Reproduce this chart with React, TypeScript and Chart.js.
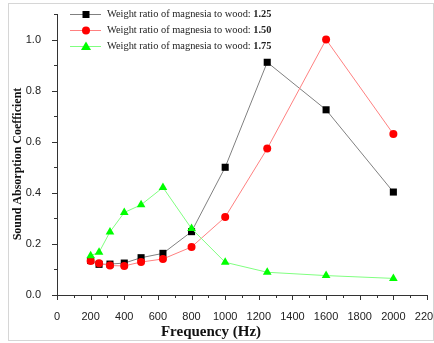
import React, { useEffect, useRef } from "react";
import { Chart, registerables } from "chart.js";

Chart.register(...registerables);

const frequencies = [200, 250, 315, 400, 500, 630, 800, 1000, 1250, 1600, 2000];
const ratio125 = [0.135, 0.12, 0.121, 0.125, 0.146, 0.163, 0.248, 0.5, 0.911, 0.725, 0.403];
const ratio150 = [0.133, 0.124, 0.115, 0.114, 0.129, 0.141, 0.188, 0.305, 0.573, 1.0, 0.63];
const ratio175 = [0.154, 0.167, 0.247, 0.323, 0.353, 0.421, 0.26, 0.128, 0.089, 0.076, 0.065];
const ratioLabels = ["1.25", "1.50", "1.75"];
const legendPrefix = "Weight ratio of magnesia to wood: ";
const xTicks = [0, 200, 400, 600, 800, 1000, 1200, 1400, 1600, 1800, 2000, 2200];
const yTicks = [0, 0.2, 0.4, 0.6, 0.8, 1.0];
const xMinorTicks = [100, 300, 500, 700, 900, 1100, 1300, 1500, 1700, 1900, 2100];
const yMinorTicks = [0.1, 0.3, 0.5, 0.7, 0.9, 1.1];
const xTitle = "Frequency (Hz)";
const yTitle = "Sound Absorption Coefficient";

const lineColors = ["#808080", "#ff8080", "#80ff80"];
const markerColors = ["#000000", "#ff0000", "#00ff00"];
const markerStyles = ["rect", "circle", "triangle"];

function drawMarker(ctx: CanvasRenderingContext2D, style: string, x: number, y: number, color: string) {
  ctx.save();
  ctx.fillStyle = color;
  ctx.beginPath();
  if (style === "rect") {
    ctx.rect(x - 3.5, y - 3.5, 7, 7);
  } else if (style === "circle") {
    ctx.arc(x, y, 4, 0, Math.PI * 2);
  } else {
    ctx.moveTo(x, y - 5);
    ctx.lineTo(x + 5, y + 3.5);
    ctx.lineTo(x - 5, y + 3.5);
    ctx.closePath();
  }
  ctx.fill();
  ctx.restore();
}

const decorPlugin = {
  id: "decor",
  afterDraw(chart: any) {
    const ctx: CanvasRenderingContext2D = chart.ctx;
    const xs = chart.scales.x;
    const ys = chart.scales.y;
    const area = chart.chartArea;
    ctx.save();
    // frame around figure
    ctx.strokeStyle = "#d6d6d6";
    ctx.lineWidth = 1;
    ctx.strokeRect(8.5, 3.5, 425, 337);

    // ticks
    ctx.strokeStyle = "#333333";
    ctx.lineWidth = 1;
    ctx.beginPath();
    xTicks.forEach((v) => {
      const px = Math.round(xs.getPixelForValue(v)) + 0.5;
      ctx.moveTo(px, area.bottom);
      ctx.lineTo(px, area.bottom + 5);
    });
    xMinorTicks.forEach((v) => {
      const px = Math.round(xs.getPixelForValue(v)) + 0.5;
      ctx.moveTo(px, area.bottom);
      ctx.lineTo(px, area.bottom + 3);
    });
    yTicks.forEach((v) => {
      const py = Math.round(ys.getPixelForValue(v)) + 0.5;
      ctx.moveTo(area.left, py);
      ctx.lineTo(area.left - 5, py);
    });
    yMinorTicks.forEach((v) => {
      const py = Math.round(ys.getPixelForValue(v)) + 0.5;
      ctx.moveTo(area.left, py);
      ctx.lineTo(area.left - 3, py);
    });
    ctx.stroke();

    // axis titles
    ctx.fillStyle = "#111111";
    ctx.font = "bold 15px 'Liberation Serif'";
    ctx.textAlign = "center";
    ctx.textBaseline = "middle";
    ctx.fillText(xTitle, 211, 332);
    ctx.save();
    ctx.translate(18, 164);
    ctx.rotate(-Math.PI / 2);
    ctx.font = "bold 12px 'Liberation Serif'";
    ctx.fillText(yTitle, 0, 0);
    ctx.restore();

    // legend
    const rows = [14.5, 30.5, 46.5];
    ratioLabels.forEach((lab, i) => {
      const y = rows[i];
      ctx.strokeStyle = lineColors[i];
      ctx.lineWidth = 1;
      ctx.beginPath();
      ctx.moveTo(70, y);
      ctx.lineTo(101, y);
      ctx.stroke();
      drawMarker(ctx, markerStyles[i], 86, y, markerColors[i]);
      ctx.fillStyle = "#222222";
      ctx.textAlign = "left";
      ctx.textBaseline = "middle";
      ctx.font = "10.4px 'Liberation Serif'";
      ctx.fillText(legendPrefix, 107, y);
      const w = ctx.measureText(legendPrefix).width;
      ctx.font = "bold 10.4px 'Liberation Serif'";
      ctx.fillText(lab, 107 + w, y);
    });
    ctx.restore();
  },
};

export default function App() {
  const ref = useRef<HTMLCanvasElement | null>(null);
  useEffect(() => {
    document.body.style.margin = "0";
    const series = [ratio125, ratio150, ratio175];
    const chart = new Chart(ref.current as HTMLCanvasElement, {
      type: "line",
      data: {
        datasets: series.map((vals, i) => ({
          label: legendPrefix + ratioLabels[i],
          data: frequencies.map((f, j) => ({ x: f, y: vals[j] })),
          borderColor: lineColors[i],
          backgroundColor: markerColors[i],
          pointBackgroundColor: markerColors[i],
          pointBorderColor: markerColors[i],
          pointBorderWidth: 0,
          pointStyle: markerStyles[i] as any,
          pointRadius: i === 0 ? 5 : i === 1 ? 4 : 5,
          borderWidth: 1,
          tension: 0,
          fill: false,
          order: 3 - i,
        })),
      },
      options: {
        animation: false,
        responsive: false,
        maintainAspectRatio: false,
        layout: { padding: { left: 0, top: 14, right: 7, bottom: 0 } },
        plugins: {
          legend: { display: false },
          tooltip: { enabled: false },
        },
        scales: {
          x: {
            type: "linear",
            min: 0,
            max: 2200,
            grid: { display: false },
            border: { display: true, color: "#333333", width: 1 },
            afterBuildTicks: (s: any) => {
              s.ticks = xTicks.map((v) => ({ value: v }));
            },
            afterFit: (s: any) => {
              s.height = 48;
              s.paddingLeft = 0;
              s.paddingRight = 0;
            },
            ticks: {
              padding: 7,
              maxRotation: 0,
              autoSkip: false,
              color: "#222222",
              font: { family: "'Liberation Sans'", size: 11 },
              callback: (v: any) => String(v),
            },
          },
          y: {
            type: "linear",
            min: 0,
            max: 1.1,
            grid: { display: false },
            border: { display: true, color: "#333333", width: 1 },
            afterBuildTicks: (s: any) => {
              s.ticks = yTicks.map((v) => ({ value: v }));
            },
            afterFit: (s: any) => {
              s.width = 57;
              s.paddingTop = 0;
              s.paddingBottom = 0;
            },
            ticks: {
              padding: 8,
              color: "#222222",
              font: { family: "'Liberation Sans'", size: 11 },
              callback: (v: any) => Number(v).toFixed(1),
            },
          },
        },
      },
      plugins: [decorPlugin],
    });
    return () => chart.destroy();
  }, []);
  return (
    <div style={{ position: "absolute", left: 0, top: 0, width: 434, height: 343, background: "#ffffff" }}>
      <canvas ref={ref} width={434} height={343} style={{ width: 434, height: 343, display: "block" }} />
    </div>
  );
}
